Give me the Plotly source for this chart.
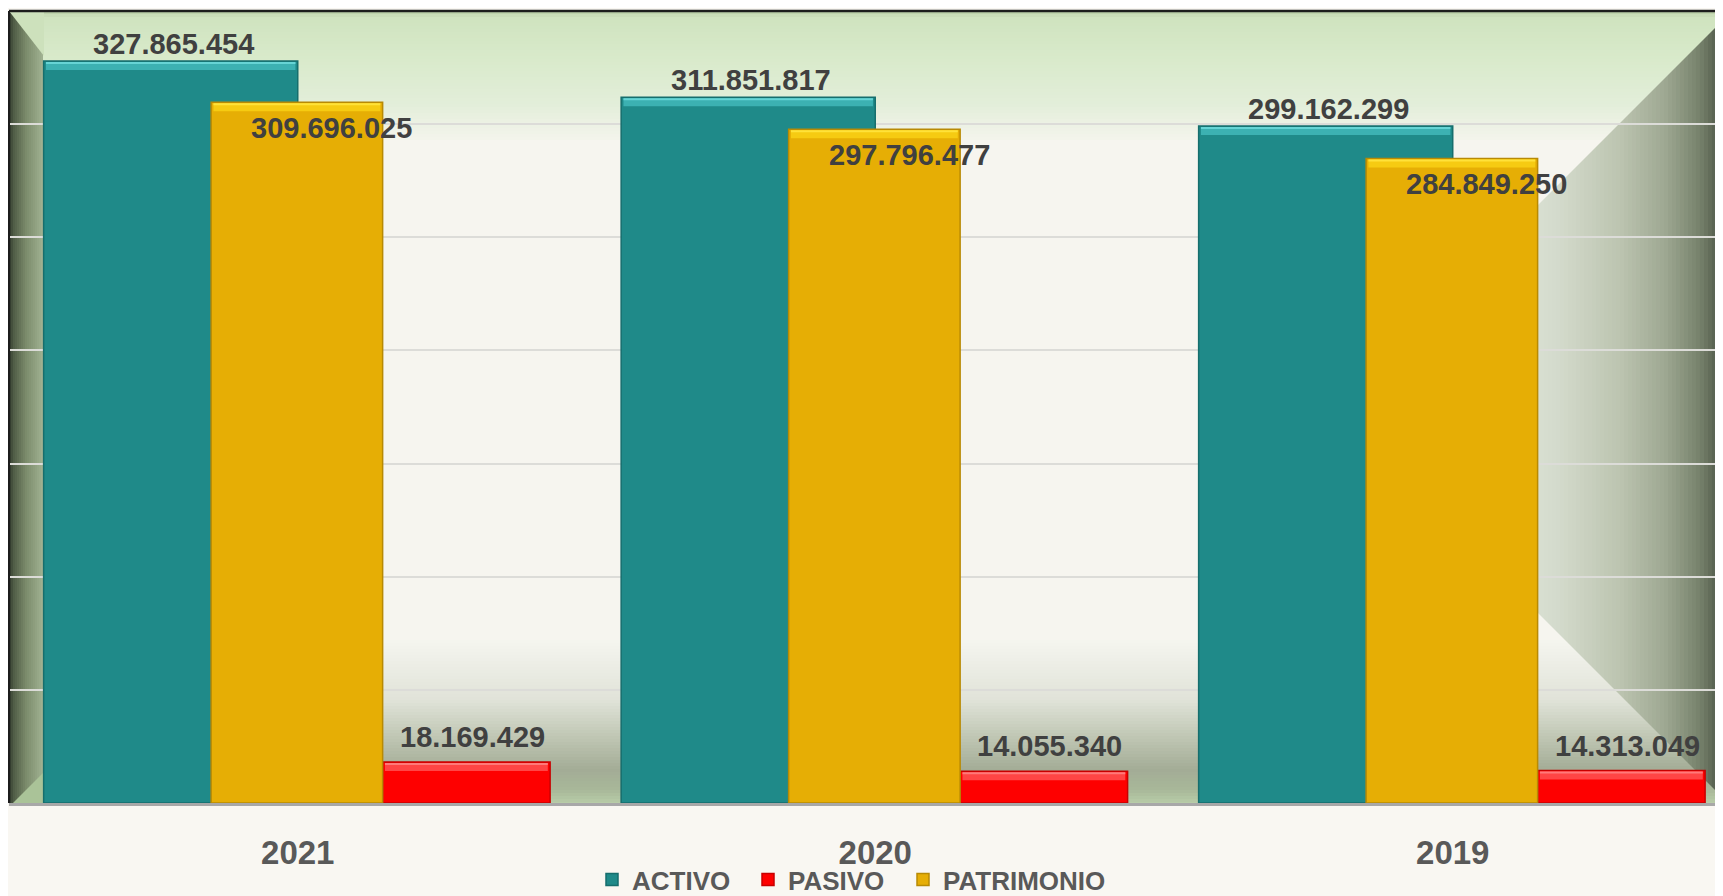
import plotly.graph_objects as go

# ---------------- data ----------------
years = ["2021", "2020", "2019"]
activo = [327865454, 311851817, 299162299]
pasivo = [18169429, 14055340, 14313049]
patrimonio = [309696025, 297796477, 284849250]
series_names = ["ACTIVO", "PASIVO", "PATRIMONIO"]
y_max = 350000000
y_step = 50000000

# ---------------- layout constants ----------------
# the page body adds an 8px offset; positions below are given in window pixels
OFF = 8
WIN_W, WIN_H = 1723, 896
W, H = WIN_W - OFF, WIN_H - OFF
PL, PR, PT, PB = 9, 1723, 11, 803          # plot area in window pixels
ML, MR, MT, MB = PL - OFF, WIN_W - PR, PT - OFF, WIN_H - PB
PW, PH = PR - PL, PB - PT

FONT = "Liberation Sans, Arial, Helvetica, sans-serif"
TXT = "#404040"
TXT2 = "#595959"

# bar geometry (offset, width in category units), colours
geom = {"ACTIVO": (-0.44, 0.44), "PASIVO": (0.147, 0.29), "PATRIMONIO": (-0.150, 0.297)}
face = {"ACTIVO": "#1f8a89", "PASIVO": "#fe0000", "PATRIMONIO": "#e6ae05"}
edge = {"ACTIVO": "#166e6d", "PASIVO": "#c80000", "PATRIMONIO": "#b88a04"}
bevel = {"ACTIVO": "#3cb1b2", "PASIVO": "#ff4545", "PATRIMONIO": "#f6cb12"}
shine = {"ACTIVO": "#66d4d5", "PASIVO": "#ff7a7a", "PATRIMONIO": "#ffe23a"}
# label placement (xshift, yshift) in px relative to bar centre/top
lab = {"ACTIVO": (3, 17), "PASIVO": (6, 25), "PATRIMONIO": (35, -25.5)}
# legend text start (window px)
leg_text_x = {"ACTIVO": 632, "PASIVO": 788, "PATRIMONIO": 943}
leg_id = {"ACTIVO": "legend", "PASIVO": "legend2", "PATRIMONIO": "legend3"}

values = {"ACTIVO": activo, "PASIVO": pasivo, "PATRIMONIO": patrimonio}


def px(x):
    return (x - PL) / PW


def py(y):
    return (PB - y) / PH


def hex2rgb(h):
    h = h.lstrip("#")
    return tuple(int(h[i:i + 2], 16) for i in (0, 2, 4))


def interp(stops, t):
    for (t0, c0), (t1, c1) in zip(stops[:-1], stops[1:]):
        if t0 <= t <= t1:
            f = 0 if t1 == t0 else (t - t0) / (t1 - t0)
            a, b = hex2rgb(c0), hex2rgb(c1)
            r = [round(a[k] + (b[k] - a[k]) * f) for k in range(3)]
            return "rgb(%d,%d,%d)" % tuple(r)
    return stops[-1][1] if t > stops[-1][0] else stops[0][1]


shapes = []


def rect_px(x0, y0, x1, y1, color):
    shapes.append(dict(type="rect", xref="paper", yref="paper",
                       x0=px(x0), x1=px(x1), y0=py(y1), y1=py(y0),
                       fillcolor=color, line=dict(width=0), layer="below"))


def poly_px(pts, color, layer="below"):
    path = "M " + " L ".join("%f,%f" % (px(a), py(b)) for a, b in pts) + " Z"
    shapes.append(dict(type="path", xref="paper", yref="paper", path=path,
                       fillcolor=color, line=dict(width=0), layer=layer))


# top (ceiling) green band
top_stops = [(11, "#b7cca4"), (17, "#cfe3bf"), (60, "#d9eacb"), (105, "#e3eeda"), (140, "#f4f4ec")]
y = 11
while y < 140:
    rect_px(PL, y, PR, y + 3, interp(top_stops, y + 1.5))
    y += 3

# bottom (floor) band
bot_stops = [(640, "#f5f5ef"), (700, "#e0e3d8"), (740, "#bdc4b1"), (770, "#a3ac96"),
             (790, "#a8b899"), (803, "#b8cca8")]
y = 640
while y < 803:
    rect_px(PL, y, PR, y + 3, interp(bot_stops, y + 1.5))
    y += 3

# left wall
lw_stops = [(9, "#2c3328"), (13, "#4d5a44"), (26, "#7b8b6b"), (43, "#a1b292")]
x = 9
while x < 43:
    rect_px(x, 11, x + 2, 803, interp(lw_stops, x + 1))
    x += 2
poly_px([(9, 11), (44, 11), (44, 56)], "#cde1bc")
poly_px([(44, 772), (44, 803), (13, 803)], "#aac398")

# right wall (perspective trapezoid)
rw_stops = [(1480, "#e6ece3"), (1560, "#d3dacb"), (1620, "#bcc4b0"), (1665, "#9ea892"),
            (1700, "#76816b"), (1723, "#4a5345")]


def ytop(xx):
    return 20 + (1723 - xx)


def ybot(xx):
    return 798 - (1723 - xx)


x = 1480
while x < 1723:
    xb = min(x + 4, 1723)
    poly_px([(x, ytop(x)), (xb, ytop(xb)), (xb, ybot(xb)), (x, ybot(x))],
            interp(rw_stops, (x + xb) / 2))
    x = xb

# frame lines (top and left)
shapes.append(dict(type="line", xref="paper", yref="paper", x0=px(9), x1=px(WIN_W + 5),
                   y0=py(11), y1=py(11), line=dict(color="#1c1c1c", width=2.5), layer="above"))
shapes.append(dict(type="line", xref="paper", yref="paper", x0=px(9), x1=px(9),
                   y0=py(11), y1=py(803), line=dict(color="#1c1c1c", width=2), layer="above"))

# ---------------- traces ----------------
fig = go.Figure()
for name in series_names:
    off, wid = geom[name]
    fig.add_trace(go.Bar(
        name=name, x=years, y=values[name],
        offset=off, width=wid, legend=leg_id[name],
        marker=dict(color=face[name], line=dict(color=edge[name], width=1.5)),
    ))

# bevel highlights on bar tops and value labels
annotations = []
for name in series_names:
    off, wid = geom[name]
    for i, v in enumerate(values[name]):
        shapes.append(dict(type="rect", xref="x", yref="y", x0=i + off + 0.004, x1=i + off + wid - 0.004,
                           ysizemode="pixel", yanchor=v, y0=-9, y1=-1,
                           fillcolor=bevel[name], line=dict(width=0), layer="above"))
        shapes.append(dict(type="rect", xref="x", yref="y", x0=i + off + 0.004, x1=i + off + wid - 0.004,
                           ysizemode="pixel", yanchor=v, y0=-3, y1=-1,
                           fillcolor=shine[name], line=dict(width=0), layer="above"))
        dx, dy = lab[name]
        annotations.append(dict(
            x=i + off + wid / 2, y=v, xref="x", yref="y",
            text=f"{v:,}".replace(",", "."), showarrow=False,
            xanchor="center", yanchor="middle", xshift=dx, yshift=dy,
            font=dict(family=FONT, size=29, color=TXT, weight="bold"),
        ))

legend_common = dict(orientation="h", xanchor="left", y=py(856), yanchor="top",
                     font=dict(family=FONT, size=26, color=TXT2, weight="bold"),
                     bgcolor="rgba(0,0,0,0)", itemclick=False, itemdoubleclick=False)
legends = {}
for name in series_names:
    legends[leg_id[name]] = dict(legend_common, x=px(leg_text_x[name] - 40))

fig.update_layout(
    width=W, height=H,
    margin=dict(l=ML, r=MR, t=MT, b=MB, autoexpand=False),
    barmode="overlay",
    paper_bgcolor="#f9f7f2",
    plot_bgcolor="#f6f5ef",
    shapes=shapes,
    annotations=annotations,
    showlegend=True,
    xaxis=dict(type="category", range=[-0.5, 2.468], showgrid=False, ticks="",
               showline=True, linecolor="#a8a8a8", linewidth=3, ticklabelstandoff=18,
               tickfont=dict(family=FONT, size=33, color=TXT2, weight="bold")),
    yaxis=dict(range=[0, y_max], dtick=y_step, showticklabels=False, ticks="",
               showgrid=True, gridcolor="#dcdcd8", gridwidth=2, zeroline=False,
               showline=False),
    **legends,
)

fig.write_html("out.html")
